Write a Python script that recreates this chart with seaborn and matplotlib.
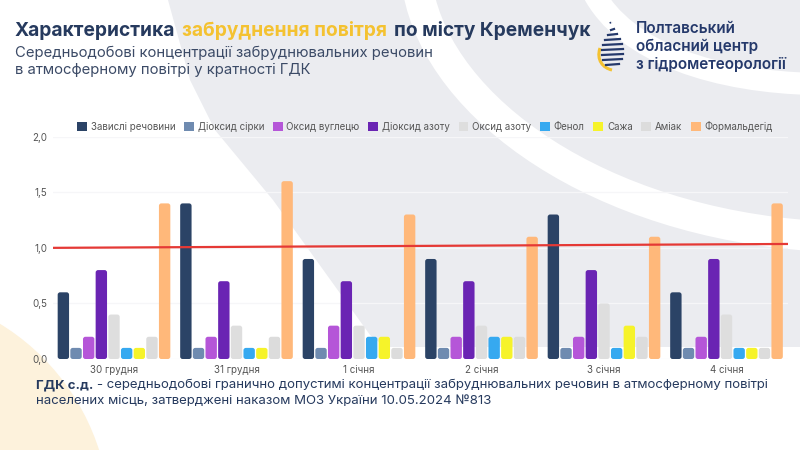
import numpy as np
import pandas as pd
import matplotlib
matplotlib.use("Agg")
import matplotlib.pyplot as plt
import matplotlib.transforms as mtransforms
import seaborn as sns
from matplotlib.patches import Polygon, PathPatch, Circle, FancyBboxPatch
from matplotlib.path import Path

# data
dates = ["30 грудня", "31 грудня", "1 січня", "2 січня", "3 січня", "4 січня"]
substances = ["Завислі речовини", "Діоксид сірки", "Оксид вуглецю", "Діоксид азоту",
              "Оксид азоту", "Фенол", "Сажа", "Аміак", "Формальдегід"]
dust = [0.6, 1.4, 0.9, 0.9, 1.3, 0.6]
so2 = [0.1, 0.1, 0.1, 0.1, 0.1, 0.1]
co = [0.2, 0.2, 0.3, 0.2, 0.2, 0.2]
no2 = [0.8, 0.7, 0.7, 0.7, 0.8, 0.9]
no = [0.4, 0.3, 0.3, 0.3, 0.5, 0.4]
phenol = [0.1, 0.1, 0.2, 0.2, 0.1, 0.1]
soot = [0.1, 0.1, 0.2, 0.2, 0.3, 0.1]
ammonia = [0.2, 0.2, 0.1, 0.2, 0.2, 0.1]
formaldehyde = [1.4, 1.6, 1.3, 1.1, 1.1, 1.4]
limit_line = [1.0, 1.035]   # ГДК line, left end / right end
yticks = [0.0, 0.5, 1.0, 1.5, 2.0]

colors = ["#2b4366", "#6f8bb0", "#b556d8", "#6a24b3", "#dedede",
          "#36a9f0", "#f6f32a", "#dcdcdc", "#ffb87a"]

df = pd.DataFrame({"date": dates, substances[0]: dust, substances[1]: so2,
                   substances[2]: co, substances[3]: no2, substances[4]: no,
                   substances[5]: phenol, substances[6]: soot, substances[7]: ammonia,
                   substances[8]: formaldehyde})
long = df.melt(id_vars="date", var_name="substance", value_name="value")

navy = "#263a5e"
gray_bg = "#ebecf0"

fig = plt.figure(figsize=(8, 4.5), dpi=100)
fig.patch.set_facecolor("white")
plt.rcParams["font.family"] = ["Inter", "DejaVu Sans"]

# pixel coords (origin top-left) -> figure
px = mtransforms.Affine2D().scale(1 / 800, -1 / 450).translate(0, 1) + fig.transFigure

# background decoration
pts = [(168, 0), (800, 0), (800, 347), (385, 347), (370, 335), (273, 200),
       (215, 130), (190, 80)]
fig.add_artist(Polygon(pts, closed=True, transform=px, facecolor=gray_bg,
                       edgecolor="none", zorder=-10))
band_a = Path([(418, -10), (440, 110), (600, 222), (815, 236)],
              [Path.MOVETO, Path.CURVE4, Path.CURVE4, Path.CURVE4])
fig.add_artist(PathPatch(band_a, transform=px, facecolor="none", edgecolor="white",
                         lw=22, zorder=-9))
band_b = Path([(592, -10), (625, 55), (720, 82), (815, 84)],
              [Path.MOVETO, Path.CURVE4, Path.CURVE4, Path.CURVE4])
fig.add_artist(PathPatch(band_b, transform=px, facecolor="none", edgecolor="white",
                         lw=16, zorder=-9))
fig.add_artist(Circle((-120, 520), 230, transform=px, facecolor="#fdf2dc",
                      edgecolor="none", zorder=-9))

# chart
ax = fig.add_axes([52.75 / 800, 1 - 359 / 450, (787.75 - 52.75) / 800, (359 - 136.7) / 450])
ax.set_facecolor("none")
sns.barplot(data=long, x="date", y="value", hue="substance", hue_order=substances,
            palette=colors, width=0.93, gap=0.1, ax=ax, saturation=1, errorbar=None)
ax.set_xlim(-0.5, 5.5)
ax.set_ylim(0, 2.0)

# rounded bar tops
aspect = (2.0 / 222.3) / (6.0 / 735.0)
for cont in ax.containers:
    for bar in cont:
        if bar.get_height() <= 0:
            continue
        bx, by = bar.get_xy()
        rb = FancyBboxPatch((bx, by), bar.get_width(), bar.get_height(),
                            boxstyle="round,pad=0,rounding_size=0.02", mutation_aspect=aspect,
                            facecolor=bar.get_facecolor(), edgecolor="none", zorder=2)
        bar.set_visible(False)
        ax.add_patch(rb)

ax.plot([-0.5, 5.5], limit_line, color="#e53935", lw=1.6, zorder=5)
ax.set_yticks(yticks)
ax.set_yticklabels([f"{v:.1f}".replace(".", ",") for v in yticks])
ax.grid(axis="y", color="#f6f6f8", lw=0.9)
ax.set_axisbelow(True)
for s in ax.spines.values():
    s.set_visible(False)
ax.tick_params(length=0, labelsize=7, colors="#555555")
ax.tick_params(axis="y", pad=4)
ax.tick_params(axis="x", pad=4)
ax.set_xlabel("")
ax.set_ylabel("")

sns.move_legend(ax, "center", bbox_to_anchor=(425 / 800, 1 - 126 / 450),
                bbox_transform=fig.transFigure, ncol=9, frameon=False, title=None,
                fontsize=7, handlelength=1.0, handleheight=1.0, handletextpad=0.4,
                columnspacing=0.9)
for t in ax.get_legend().get_texts():
    t.set_color("#555555")

# title with coloured part
renderer = fig.canvas.get_renderer()
x = 15
for piece, col in [("Характеристика", navy), ("забруднення повітря", "#f4c231"),
                   ("по місту Кременчук", navy)]:
    t = fig.text(x, 36, piece, transform=px, fontsize=13.8, fontweight="bold",
                 color=col, va="baseline", ha="left")
    x = t.get_window_extent(renderer).x1 + 7

fig.text(15, 57, "Середньодобові концентрації забруднювальних речовин", transform=px,
         fontsize=10.7, color="#3b4a66", va="baseline")
fig.text(15, 74, "в атмосферному повітрі у кратності ГДК", transform=px,
         fontsize=10.7, color="#3b4a66", va="baseline")

# logo
for i, ln in enumerate(["Полтавський", "обласний центр", "з гідрометеорології"]):
    fig.text(636, 33 + 18 * i, ln, transform=px, fontsize=11, fontweight="semibold",
             color="#25396b", va="baseline")
for yy, hw in [(30, 3), (35, 6), (40, 9), (45, 11), (50, 12), (55, 12), (60, 11), (65, 8)]:
    fig.add_artist(plt.Line2D([611 - hw + 3, 611 + hw], [yy, yy - 1], transform=px,
                              color="#25396b", lw=1.6))
fig.add_artist(plt.Line2D([610, 611, 612], [22, 24, 22], transform=px, color="#25396b",
                          lw=1.2, ls=":"))
arc = Path([(600, 48), (596, 60), (603, 68), (612, 70)],
           [Path.MOVETO, Path.CURVE4, Path.CURVE4, Path.CURVE4])
fig.add_artist(PathPatch(arc, transform=px, facecolor="none", edgecolor="#f4c231", lw=2.2))

# footer
t = fig.text(36, 388, "ГДК с.д.", transform=px, fontsize=9.5, fontweight="bold",
             color=navy, va="baseline")
x = t.get_window_extent(renderer).x1 + 4
fig.text(x, 388, "- середньодобові гранично допустимі концентрації забруднювальних "
         "речовин в атмосферному повітрі", transform=px, fontsize=9.5, color=navy,
         va="baseline")
fig.text(36, 404, "населених місць, затверджені наказом МОЗ України 10.05.2024 №813",
         transform=px, fontsize=9.5, color=navy, va="baseline")

fig.savefig("out.png", dpi=100, facecolor=fig.get_facecolor())
